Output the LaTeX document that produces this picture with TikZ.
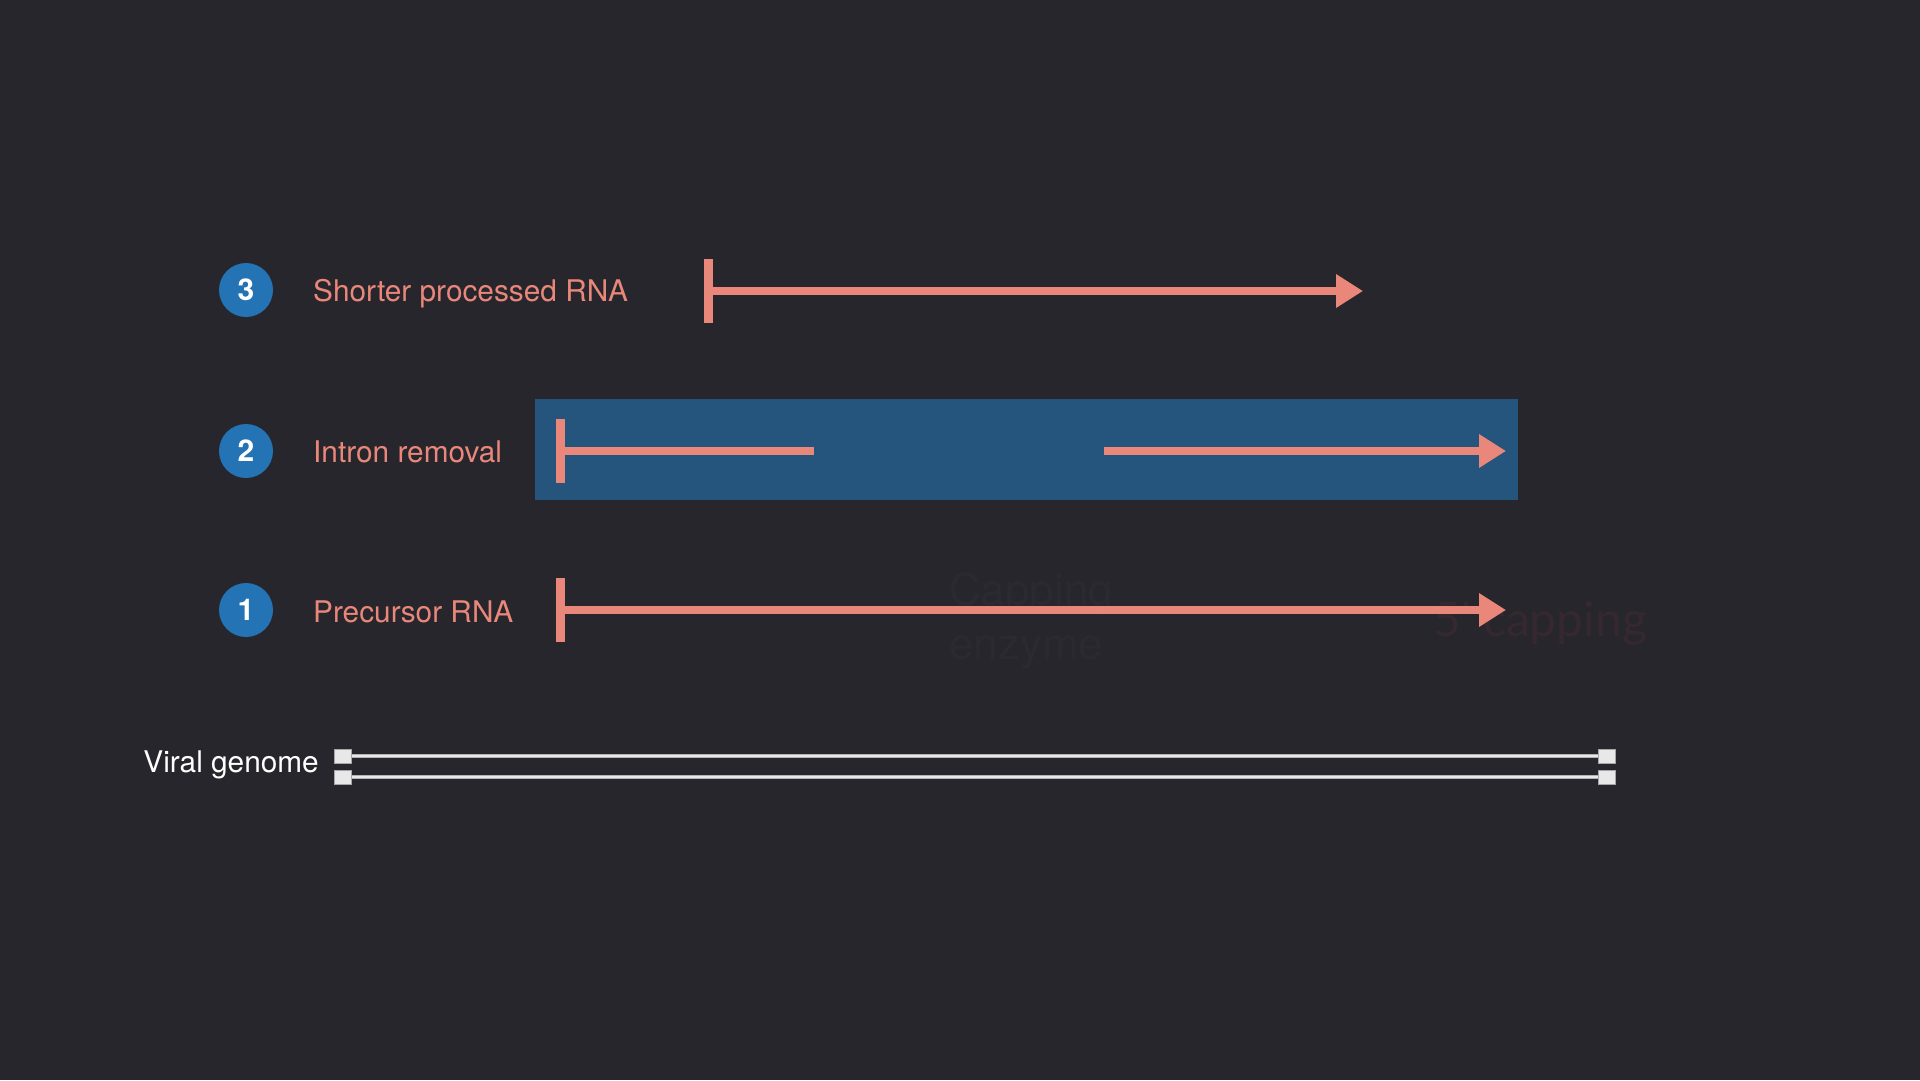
\documentclass[tikz,border=0pt]{standalone}
\usepackage{fontspec}
\setmainfont{TeX Gyre Heros}
\newfontfamily\latofont{Lato}
\usetikzlibrary{arrows.meta}
\definecolor{bg}{RGB}{39,38,44}
\definecolor{salmon}{RGB}{232,135,122}
\definecolor{numblue}{RGB}{35,115,181}
\definecolor{boxblue}{RGB}{37,84,124}
\definecolor{faint}{RGB}{43,42,48}
\definecolor{faintred}{RGB}{54,40,47}
\definecolor{genome}{RGB}{232,232,232}
\begin{document}
\begin{tikzpicture}[x=1pt,y=-1pt,
  numcirc/.style={circle,fill=numblue,minimum size=54pt,inner sep=0pt,text=white,font=\fontsize{30}{32}\selectfont\bfseries},
  rowlabel/.style={anchor=west,text=salmon,font=\fontsize{29.8}{34}\selectfont,inner sep=0pt},
  rnaline/.style={draw=salmon,line width=8.5pt},
  rnaarrow/.style={rnaline,-{Triangle[length=27pt,width=32pt]}},
  rnabar/.style={draw=salmon,line width=9pt},
  gcap/.style={rectangle,fill=genome,draw=gray!70,line width=0.6pt,minimum width=17pt,minimum height=14pt,inner sep=0pt},
  gline/.style={draw=genome,line width=2.6pt},
  gedge/.style={draw=gray!60,line width=4pt}
]
\fill[bg] (0,0) rectangle (1920,1080);
\useasboundingbox (0,0) rectangle (1920,1080);

% faint background texts
\node[anchor=west,text=faint,font=\fontsize{44}{54}\selectfont,align=left,inner sep=0pt] (enz) at (949,621) {Capping\\enzyme};
\node[anchor=west,text=faintred,font=\latofont\fontsize{48}{54}\selectfont,inner sep=0pt] (cap) at (1433,623) {5' capping};

% row 3
\node[numcirc] (n3) at (246,290) {3};
\node[rowlabel] (l3) at (313,294) {Shorter processed RNA};
\coordinate (s3) at (708,291);
\coordinate (e3) at (1363,291);
\draw[rnaarrow] (s3) -- (e3);
\draw[rnabar] (s3) ++(0,-32) -- ++(0,64);

% row 2
\node[numcirc] (n2) at (246,451) {2};
\node[rowlabel] (l2) at (313,452) {Intron removal};
\node[fill=boxblue,minimum width=983pt,minimum height=101pt,inner sep=0pt,anchor=north west] (box) at (535,399) {};
\coordinate (s2) at (560,451);
\coordinate (m2a) at (814,451);
\coordinate (m2b) at (1104,451);
\coordinate (e2) at (1506,451);
\draw[rnaline] (s2) -- (m2a);
\draw[rnaarrow] (m2b) -- (e2);
\draw[rnabar] (s2) ++(0,-32) -- ++(0,64);

% row 1
\node[numcirc] (n1) at (246,610) {1};
\node[rowlabel] (l1) at (313,612) {Precursor RNA};
\coordinate (s1) at (560,610);
\coordinate (e1) at (1506,610);
\draw[rnaarrow] (s1) -- (e1);
\draw[rnabar] (s1) ++(0,-32) -- ++(0,64);

% viral genome
\node[anchor=east,text=white,font=\fontsize{29.8}{34}\selectfont,inner sep=0pt] (vg) at (319,765) {Viral genome};
\node[gcap] (g1l) at (343,756) {};
\node[gcap] (g1r) at (1607,756) {};
\node[gcap] (g2l) at (343,777) {};
\node[gcap] (g2r) at (1607,777) {};
\draw[gedge] (g1l) -- (g1r);
\draw[gline] (g1l) -- (g1r);
\draw[gedge] (g2l) -- (g2r);
\draw[gline] (g2l) -- (g2r);
\end{tikzpicture}
\end{document}
